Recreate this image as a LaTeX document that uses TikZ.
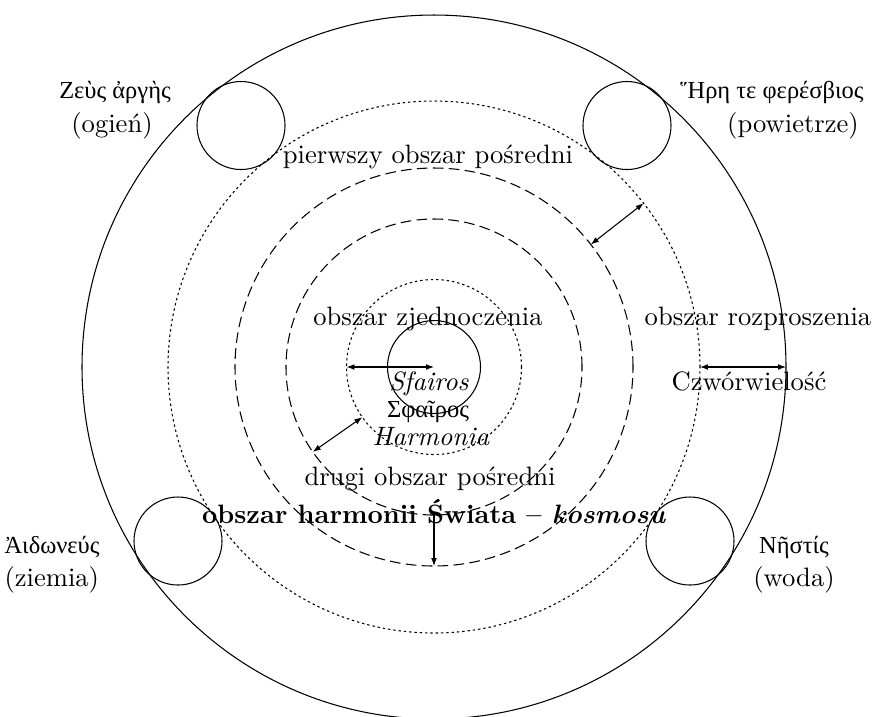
\documentclass[tikz,border=0pt]{standalone}
\usepackage{fontspec}
\newfontfamily\greek[Scale=0.92]{Liberation Serif}
\usetikzlibrary{arrows.meta}
\begin{document}
\begin{tikzpicture}[x=0.376pt,y=-0.376pt,
  ring/.style={draw, circle, inner sep=0pt, outer sep=0pt, line width=0.4pt},
  dotring/.style={ring, dash pattern=on 0.9pt off 1.1pt},
  dashring/.style={ring, dash pattern=on 4pt off 2pt},
  lab/.style={anchor=base, inner sep=0pt},
  biarr/.style={line width=0.4pt, {Latex[length=3pt,width=2.2pt]}-{Latex[length=3pt,width=2.2pt]}},
  onearr/.style={line width=0.4pt, -{Latex[length=3pt,width=2.2pt]}},
]
\useasboundingbox (0,0) rectangle (891,716);
\clip (0,0) rectangle (891,716);
% concentric rings
\node[ring, minimum size=264.70pt] (outer) at (434,367) {};
\node[dotring, minimum size=200.03pt] (dotL) at (434,367) {};
\node[dashring, minimum size=149.65pt] (dashL) at (434,367) {};
\node[dashring, minimum size=111.30pt] (dashM) at (434,367) {};
\node[dotring, minimum size=65.80pt] (dotS) at (434,367) {};
\node[ring, minimum size=34.97pt] (sol) at (434,367) {};
% element circles
\node[ring, minimum size=33.09pt] (ctl) at (241,125.5) {};
\node[ring, minimum size=33.09pt] (ctr) at (627,125.5) {};
\node[ring, minimum size=33.09pt] (cbl) at (178,541) {};
\node[ring, minimum size=33.09pt] (cbr) at (690,541) {};
% arrows
\draw[biarr] (dotS.west) -- (sol.center);
\draw[biarr] (dashM.215) -- (dotS.215);
\draw[onearr] (dashM.south) -- (dashL.south);
\draw[biarr] (dashL.38) -- (dotL.38);
\draw[biarr] (dotL.east) -- (outer.east);
% labels
\node[lab] (zeus) at (115,98) {\greek Ζεὺς ἀργὴς};
\node[lab] (ogien) at (112,132) {(ogień)};
\node[lab] (hera) at (772,98) {\greek Ἥρη τε φερέσβιος};
\node[lab] (powietrze) at (793,132) {(powietrze)};
\node[lab, anchor=base west] (aid) at (4,553) {\greek Ἀιδωνεύς};
\node[lab, anchor=base west] (ziemia) at (4,586) {(ziemia)};
\node[lab] (nestis) at (794,553) {\greek Νῆστίς};
\node[lab] (woda) at (794,586) {(woda)};
\node[lab] (pierwszy) at (428,163) {pierwszy obszar pośredni};
\node[lab] (zjed) at (428,325) {obszar zjednoczenia};
\node[lab] (rozp) at (758,325) {obszar rozproszenia};
\node[lab] (czw) at (749,390) {Czwórwielość};
\node[lab] (sfairos) at (429,390) {\textit{Sfairos}};
\node[lab] (sfairosgr) at (428,417) {\greek Σφαῖρος};
\node[lab] (harm) at (431,445) {\textit{Harmonia}};
\node[lab] (drugi) at (430,485) {drugi obszar pośredni};
\node[lab] (kosmos) at (434,523) {\textbf{obszar harmonii Świata -- \textit{kosmosu}}};
\end{tikzpicture}
\end{document}
